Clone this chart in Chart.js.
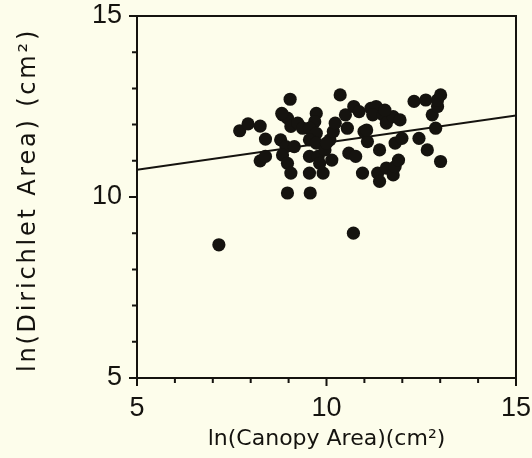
<!DOCTYPE html>
<html>
<head>
<meta charset="utf-8">
<script src="https://cdn.jsdelivr.net/npm/chart.js@4.4.1/dist/chart.umd.min.js"></script>
<style>
  html, body { margin: 0; padding: 0; background: #fdfdeb; }
  #wrap { width: 532px; height: 458px; }
</style>
</head>
<body>
<div id="wrap"><canvas id="chart-0" width="532" height="458"></canvas></div>
<script>
// ln(canopy area) vs ln(dirichlet area)
var canopyArea = [
    7.16, 10.71, 8.97, 9.57, 10.36, 9.04, 7.71, 7.93, 8.25, 8.39,
    8.25, 8.39, 8.84, 8.97, 9.06, 9.24, 9.37, 8.79, 8.93, 9.15,
    8.84, 8.97, 9.06, 9.73, 9.69, 9.55, 9.73, 9.55, 9.73, 9.55,
    9.78, 9.55, 9.91, 9.82, 9.96, 10.09, 10.18, 10.23, 10.14, 10.00,
    10.50, 10.55, 10.72, 10.86, 10.59, 10.77, 10.95, 10.99, 11.08, 11.17,
    11.31, 11.22, 11.49, 11.58, 11.76, 11.94, 11.40, 11.35, 11.40, 11.58,
    11.76, 11.81, 11.90, 11.81, 11.99, 12.31, 12.62, 12.44, 12.66, 12.88,
    12.79, 12.93, 13.01, 13.01, 12.93, 8.82, 11.54, 11.06
];
var dirichletArea = [
    8.68, 9.00, 10.11, 10.11, 12.82, 12.70, 11.83, 12.02, 11.96, 11.60,
    11.00, 11.12, 12.27, 12.18, 11.95, 12.04, 11.90, 11.58, 11.39, 11.39,
    11.16, 10.93, 10.66, 12.31, 12.08, 11.90, 11.76, 11.58, 11.49, 11.12,
    11.12, 10.66, 10.66, 10.93, 11.30, 11.58, 11.81, 12.04, 11.02, 11.49,
    12.27, 11.90, 12.50, 12.36, 11.21, 11.12, 10.66, 11.81, 11.53, 12.45,
    12.50, 12.27, 12.27, 12.04, 12.22, 12.13, 11.30, 10.66, 10.43, 10.80,
    10.61, 10.84, 11.02, 11.49, 11.62, 12.64, 12.68, 11.62, 11.30, 11.90,
    12.27, 12.50, 12.82, 10.98, 12.68, 12.31, 12.40, 11.85
];
var fitX = [5, 15];
var fitY = [10.75, 12.25];
var axisMin = 5, axisMax = 15;
var tickLabels = [5, 10, 15];
var xTitle = 'ln(Canopy Area)(cm²)';
var yTitle = 'ln(Dirichlet Area) (cm²)';

var ink = '#15130f';

var points = canopyArea.map(function (x, i) {
    return { x: x, y: dirichletArea[i] };
});
var fitLine = fitX.map(function (x, i) {
    return { x: x, y: fitY[i] };
});

// frame, tick marks and the spaced-out y title
var frameTicks = {
    id: 'frameTicks',
    afterDraw: function (chart) {
        var ctx = chart.ctx, a = chart.chartArea;
        var xs = chart.scales.x, ys = chart.scales.y;
        ctx.save();
        ctx.strokeStyle = ink;
        ctx.lineWidth = 2;
        ctx.strokeRect(a.left, a.top, a.right - a.left, a.bottom - a.top);
        for (var v = axisMin; v <= axisMax; v++) {
            var len = tickLabels.indexOf(v) >= 0 ? 8 : 5;
            var px = xs.getPixelForValue(v);
            var py = ys.getPixelForValue(v);
            ctx.beginPath();
            ctx.moveTo(px, a.bottom);
            ctx.lineTo(px, a.bottom + len);
            ctx.moveTo(a.left, py);
            ctx.lineTo(a.left - len, py);
            ctx.stroke();
        }
        ctx.translate(29, (a.top + a.bottom) / 2 + 3);
        ctx.rotate(-Math.PI / 2);
        ctx.fillStyle = ink;
        ctx.font = '24px "DejaVu Sans"';
        ctx.letterSpacing = '2.8px';
        ctx.textAlign = 'center';
        ctx.textBaseline = 'middle';
        ctx.fillText(yTitle, 0, 0);
        ctx.restore();
    }
};

var tickCallback = function (value) {
    return tickLabels.indexOf(value) >= 0 ? String(value) : '';
};

new Chart('chart-0', {
    type: 'scatter',
    data: {
        datasets: [{
            data: points,
            backgroundColor: ink,
            borderWidth: 0,
            pointRadius: 6.6,
            pointHoverRadius: 6.6
        }, {
            data: fitLine,
            showLine: true,
            borderColor: ink,
            borderWidth: 2,
            pointRadius: 0,
            fill: false
        }]
    },
    options: {
        responsive: false,
        animation: false,
        events: [],
        layout: {
            padding: 0
        },
        plugins: {
            legend: { display: false },
            tooltip: { enabled: false }
        },
        scales: {
            x: {
                type: 'linear',
                min: axisMin,
                max: axisMax,
                border: { display: false },
                grid: { display: false, drawTicks: false },
                ticks: {
                    stepSize: 1,
                    autoSkip: false,
                    maxRotation: 0,
                    padding: 14,
                    color: ink,
                    font: { family: 'Liberation Sans', size: 27 },
                    callback: tickCallback
                },
                title: {
                    display: true,
                    text: xTitle,
                    color: ink,
                    font: { family: 'DejaVu Sans', size: 22 },
                    padding: { top: 0, bottom: 6 }
                },
                afterFit: function (scale) {
                    scale.height = 80;
                    scale.paddingLeft = 0;
                    scale.paddingRight = 16;
                }
            },
            y: {
                type: 'linear',
                min: axisMin,
                max: axisMax,
                border: { display: false },
                grid: { display: false, drawTicks: false },
                ticks: {
                    stepSize: 1,
                    autoSkip: false,
                    padding: 15,
                    color: ink,
                    font: { family: 'Liberation Sans', size: 27 },
                    callback: tickCallback
                },
                afterFit: function (scale) {
                    scale.width = 137;
                    scale.paddingTop = 16;
                    scale.paddingBottom = 0;
                }
            }
        }
    },
    plugins: [frameTicks]
});
</script>
</body>
</html>
